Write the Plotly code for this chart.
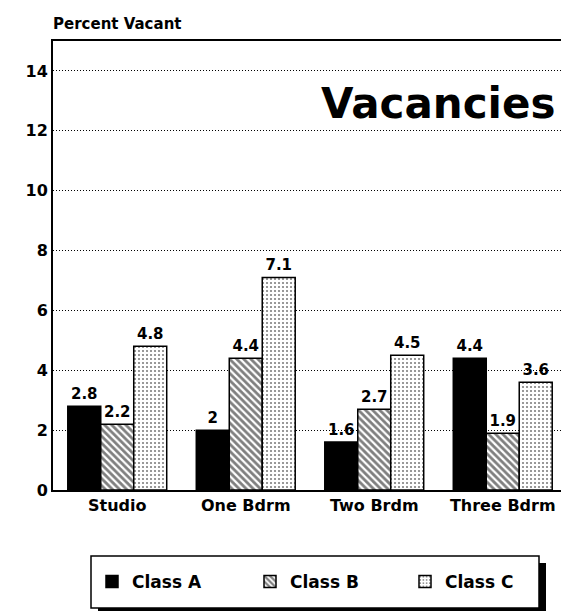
import plotly.graph_objects as go

categories = ["Studio", "One Bdrm", "Two Brdm", "Three Bdrm"]
class_a = [2.8, 2, 1.6, 4.4]
class_b = [2.2, 4.4, 2.7, 1.9]
class_c = [4.8, 7.1, 4.5, 3.6]
y_ticks = [0, 2, 4, 6, 8, 10, 12, 14]

FONT = "DejaVu Sans, Liberation Sans, Arial, sans-serif"
W, H = 569, 611
L, R, T, B = 45, 10, 33, 129

def cx(p):
    return p / W

def cy(p):
    return 1 - p / H

def paper_x(p):
    return (p - L) / (W - L - R)

def paper_y(p):
    return (H - B - p) / (H - T - B)

fig = go.Figure()
fig.add_trace(go.Bar(
    name="Class A", x=categories, y=class_a, legend="legend",
    marker=dict(color="black", line=dict(color="black", width=1.5)),
    texttemplate="%{y}", textposition="outside", cliponaxis=False,
))
fig.add_trace(go.Bar(
    name="Class B", x=categories, y=class_b, legend="legend2",
    marker=dict(color="white", line=dict(color="black", width=1.5),
                pattern=dict(shape="\\", fgcolor="black", bgcolor="white",
                             size=5, solidity=0.55, fillmode="overlay")),
    texttemplate="%{y}", textposition="outside", cliponaxis=False,
))
fig.add_trace(go.Bar(
    name="Class C", x=categories, y=class_c, legend="legend3",
    marker=dict(color="white", line=dict(color="black", width=1.5),
                pattern=dict(shape=".", fgcolor="black", bgcolor="white",
                             size=4, solidity=0.22, fillmode="overlay")),
    texttemplate="%{y}", textposition="outside", cliponaxis=False,
))

fig.update_traces(textfont=dict(family=FONT, size=15, color="black", weight="bold"))

def leg(x_px):
    return dict(
        orientation="h", xref="container", yref="container",
        x=cx(x_px), xanchor="left", y=cy(574), yanchor="middle",
        bgcolor="rgba(0,0,0,0)", borderwidth=0,
        font=dict(family=FONT, size=17, color="black", weight="bold"),
        itemclick=False, itemdoubleclick=False,
    )

fig.update_layout(
    width=W, height=H,
    margin=dict(l=L, r=R, t=T, b=B, autoexpand=False),
    paper_bgcolor="white", plot_bgcolor="white",
    barmode="group", bargap=0.23, bargroupgap=0,
    font=dict(family=FONT, color="black"),
    showlegend=True,
    legend=leg(84),
    legend2=leg(242),
    legend3=leg(397),
    xaxis=dict(
        showline=True, linecolor="black", linewidth=2, mirror=True,
        ticks="", showgrid=False, automargin=False,
        tickfont=dict(family=FONT, size=16, color="black", weight="bold"),
    ),
    yaxis=dict(
        range=[0, 15], tickvals=y_ticks, automargin=False,
        showline=True, linecolor="black", linewidth=2, mirror=True,
        ticks="", showgrid=True, gridcolor="black", gridwidth=1, griddash="1px,2px",
        zeroline=False,
        tickfont=dict(family=FONT, size=16, color="black", weight="bold"),
    ),
    shapes=[
        dict(type="rect", xref="paper", yref="paper",
             x0=paper_x(90), x1=paper_x(538), y0=paper_y(607), y1=paper_y(555),
             fillcolor="black", line=dict(width=0), layer="above"),
        dict(type="rect", xref="paper", yref="paper",
             x0=paper_x(83), x1=paper_x(531), y0=paper_y(600), y1=paper_y(548),
             fillcolor="white", line=dict(color="black", width=1.5), layer="above"),
    ],
    annotations=[
        dict(text="Percent Vacant", xref="paper", yref="paper",
             x=paper_x(43), y=paper_y(16),
             xanchor="left", yanchor="middle", showarrow=False,
             font=dict(family=FONT, size=15, color="black", weight="bold")),
        dict(text="Vacancies", xref="paper", yref="paper",
             x=paper_x(549), y=paper_y(96),
             xanchor="right", yanchor="middle", showarrow=False,
             font=dict(family=FONT, size=42, color="black", weight="bold")),
    ],
)

fig.write_html("out.html")
